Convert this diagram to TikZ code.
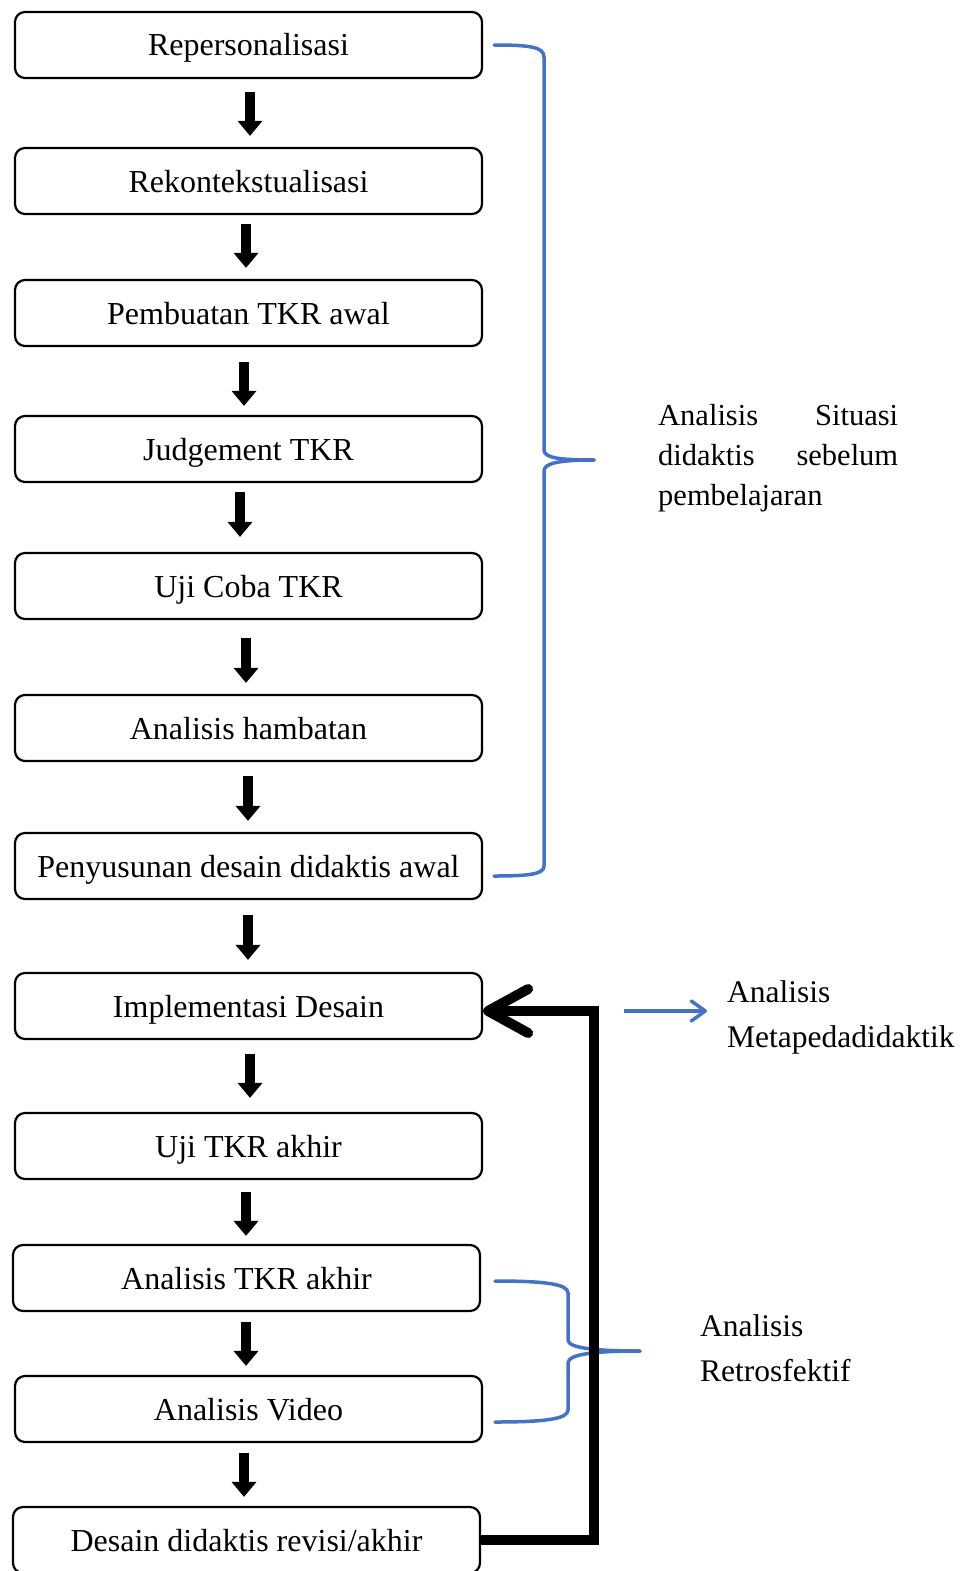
\documentclass[tikz,border=0pt]{standalone}
\usepackage{fontspec}
\setmainfont{Liberation Serif}
\usetikzlibrary{arrows.meta,calc}
\definecolor{braceblue}{HTML}{4472C4}
\begin{document}
\begin{tikzpicture}[x=1pt,y=-1pt,
  box/.style={draw, line width=2.2pt, rounded corners=10pt, minimum width=467pt,
    minimum height=66pt, inner sep=0pt, font=\fontsize{32}{38}\selectfont,
    text height=24pt, text depth=2pt},
  blk/.style={line width=10pt, -{Triangle[length=15pt,width=24pt]}},
  bluebrace/.style={draw=braceblue, line width=3.5pt, line cap=round},
  lbl/.style={align=left, inner sep=0pt, anchor=north west}]
\useasboundingbox (0,0) rectangle (967,1571);

% boxes
\node[box] (b1)  at (248.5,45)   {Repersonalisasi};
\node[box] (b2)  at (248.5,181)  {Rekontekstualisasi};
\node[box] (b3)  at (248.5,313)  {Pembuatan TKR awal};
\node[box] (b4)  at (248.5,449)  {Judgement TKR};
\node[box] (b5)  at (248.5,586)  {Uji Coba TKR};
\node[box] (b6)  at (248.5,728)  {Analisis hambatan};
\node[box] (b7)  at (248.5,866)  {Penyusunan desain didaktis awal};
\node[box] (b8)  at (248.5,1006) {Implementasi Desain};
\node[box] (b9)  at (248.5,1146) {Uji TKR akhir};
\node[box] (b10) at (246.5,1278) {Analisis TKR akhir};
\node[box] (b11) at (248.5,1409) {Analisis Video};
\node[box] (b12) at (246.5,1540) {Desain didaktis revisi/akhir};

% down arrows
\foreach \a/\b/\dx/\s/\e in {b1/b2/1.5/13/11, b2/b3/-2.5/9/11, b3/b4/-4.5/15/9,
  b4/b5/-8.5/9/15, b5/b6/-2.5/18/11, b6/b7/-0.5/14/11, b7/b8/-0.5/15/12,
  b8/b9/1.5/14/14, b9/b10/-2.5/12/8, b10/b11/-0.5/10/9, b11/b12/-4.5/10/9}
  \draw[blk, shorten <=\s pt, shorten >=\e pt]
    ([xshift=\dx pt]\a.south) -- ([xshift=\dx pt]\a.south |- \b.north);

% labels
\node[lbl, font=\fontsize{30.5}{40}\selectfont] (sit) at (658,404)
  {\makebox[240pt][s]{Analisis Situasi}\\\makebox[240pt][s]{didaktis sebelum}\\pembelajaran};
\node[lbl, font=\fontsize{31.5}{45}\selectfont] (meta) at (727,980)
  {Analisis\\Metapedadidaktik};
\node[lbl, font=\fontsize{31.5}{45}\selectfont] (retro) at (700,1314)
  {Analisis\\Retrosfektif};

% blue braces
\draw[bluebrace] (494,45) .. controls (530,45) and (544,47) .. (544,57) -- (544,450)
  .. controls (544,458) and (560,460) .. (594,460);
\draw[bluebrace] (594,460) .. controls (560,460) and (544,463) .. (544,471) -- (544,866)
  .. controls (544,874) and (530,876) .. (494,876);
\draw[bluebrace] (495,1281) .. controls (545,1281) and (568,1284) .. (568,1293) -- (568,1340)
  .. controls (568,1348) and (595,1351) .. (640,1351);
\draw[bluebrace] (640,1351) .. controls (595,1351) and (568,1354) .. (568,1363) -- (568,1410)
  .. controls (568,1419) and (545,1422) .. (495,1422);

% feedback loop
\coordinate (fb) at (594,1011);
\draw[line width=10pt, -{Straight Barb[length=40pt,width=44pt,round]}]
  (b12.east) -| (fb) -- ([yshift=-5pt]b8.east);

% arrow to Analisis Metapedadidaktik
\coordinate (ma) at (624,1011);
\draw[draw=braceblue, line width=3.5pt, shorten >=20pt,
  -{Straight Barb[length=14pt,width=20pt,round]}] (ma) -- (ma -| meta.west);
\end{tikzpicture}
\end{document}
